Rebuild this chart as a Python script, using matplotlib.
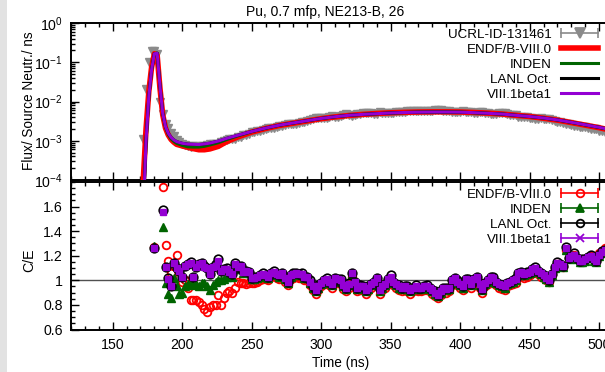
import numpy as np
import matplotlib
matplotlib.use('Agg')
import matplotlib.pyplot as plt
from matplotlib.lines import Line2D
from matplotlib.legend_handler import HandlerLine2D
from matplotlib.patches import Rectangle
import matplotlib.ticker as mticker

nan = np.nan

# ---------------- data ----------------
# top panel: calculated flux (lines)
t_calc = [168, 172, 174, 176, 178, 180, 182, 184, 186, 188,
          190, 192, 194, 196, 200, 204, 208, 212, 216, 220,
          226, 232, 240, 250, 260, 270, 280, 290, 300, 310,
          320, 330, 340, 350, 360, 370, 380, 390, 400, 410,
          420, 430, 440, 450, 460, 470, 480, 490, 500, 510, 520]
flux_endf = [1e-7, 1.0e-4, 2.0e-3, 1.8e-2, 7.5e-2, 0.165, 0.15, 0.022, 4.6e-3, 2.1e-3,
             1.4e-3, 1.08e-3, 9.2e-4, 8.1e-4, 7.4e-4, 6.8e-4, 6.3e-4, 5.9e-4, 5.9e-4, 6.2e-4,
             7.2e-4, 9.5e-4, 1.25e-3, 1.66e-3, 2.05e-3, 2.45e-3, 2.8e-3, 3.2e-3, 3.65e-3, 4.05e-3,
             4.4e-3, 4.7e-3, 4.95e-3, 5.15e-3, 5.3e-3, 5.4e-3, 5.45e-3, 5.45e-3, 5.4e-3, 5.25e-3,
             5.05e-3, 4.8e-3, 4.45e-3, 4.15e-3, 3.75e-3, 3.35e-3, 2.9e-3, 2.5e-3, 2.15e-3, 1.8e-3, 1.55e-3]
flux_inden = [1e-7, 1.5e-5, 1.0e-3, 1.35e-2, 6.5e-2, 0.165, 0.17, 0.025, 5.0e-3, 2.2e-3,
              1.45e-3, 1.12e-3, 9.6e-4, 8.6e-4, 7.6e-4, 7.0e-4, 6.9e-4, 6.9e-4, 7.2e-4, 7.8e-4,
              8.9e-4, 1.07e-3, 1.33e-3, 1.7e-3, 2.08e-3, 2.48e-3, 2.83e-3, 3.23e-3, 3.68e-3, 4.08e-3,
              4.43e-3, 4.68e-3, 4.88e-3, 5.08e-3, 5.23e-3, 5.33e-3, 5.38e-3, 5.38e-3, 5.33e-3, 5.18e-3,
              4.98e-3, 4.78e-3, 4.43e-3, 4.13e-3, 3.78e-3, 3.38e-3, 2.93e-3, 2.53e-3, 2.18e-3, 1.84e-3, 1.59e-3]
flux_lanl = [1e-7, 1.5e-5, 1.0e-3, 1.35e-2, 6.5e-2, 0.165, 0.17, 0.025, 5.0e-3, 2.3e-3,
             1.55e-3, 1.22e-3, 1.05e-3, 9.5e-4, 8.6e-4, 8.2e-4, 8.1e-4, 8.0e-4, 8.3e-4, 8.7e-4,
             9.8e-4, 1.15e-3, 1.38e-3, 1.72e-3, 2.1e-3, 2.5e-3, 2.85e-3, 3.25e-3, 3.7e-3, 4.1e-3,
             4.45e-3, 4.7e-3, 4.9e-3, 5.1e-3, 5.25e-3, 5.35e-3, 5.4e-3, 5.4e-3, 5.35e-3, 5.2e-3,
             5.0e-3, 4.8e-3, 4.45e-3, 4.15e-3, 3.8e-3, 3.4e-3, 2.95e-3, 2.55e-3, 2.2e-3, 1.85e-3, 1.6e-3]
flux_beta = [1e-7, 1.5e-5, 1.0e-3, 1.35e-2, 6.5e-2, 0.165, 0.17, 0.025, 5.0e-3, 2.3e-3,
             1.55e-3, 1.22e-3, 1.05e-3, 9.5e-4, 8.6e-4, 8.2e-4, 8.1e-4, 8.0e-4, 8.3e-4, 8.7e-4,
             9.8e-4, 1.15e-3, 1.38e-3, 1.72e-3, 2.1e-3, 2.5e-3, 2.85e-3, 3.25e-3, 3.7e-3, 4.1e-3,
             4.45e-3, 4.7e-3, 4.9e-3, 5.1e-3, 5.25e-3, 5.35e-3, 5.4e-3, 5.4e-3, 5.35e-3, 5.2e-3,
             5.0e-3, 4.8e-3, 4.45e-3, 4.15e-3, 3.8e-3, 3.4e-3, 2.95e-3, 2.55e-3, 2.2e-3, 1.85e-3, 1.6e-3]

# top panel: experiment (2 ns bins from 172 ns)
t_exp = np.arange(172, 506, 2)
flux_exp = [1.1e-3, 2.1e-2, 1.0e-1, 1.9e-1, 1.9e-1, 1.6e-1, 9.5e-3, 4.8e-3, 2.6e-3, 2.1e-3,
            1.6e-3, 1.3e-3, 1.05e-3, 9.2e-4, 8.4e-4, 7.9e-4, 7.4e-4, 7.1e-4, 7.5e-4, 7.2e-4,
            7.1e-4, 7.3e-4, 7.5e-4, 7.7e-4, 8.2e-4, 8.1e-4, 8.4e-4, 8.5e-4, 9.3e-4, 9.6e-4,
            1.05e-3, 1.09e-3, 1.14e-3, 1.12e-3, 1.24e-3, 1.27e-3, 1.37e-3, 1.41e-3, 1.48e-3, 1.68e-3,
            1.72e-3, 1.76e-3, 1.82e-3, 1.88e-3, 2.02e-3, 2.08e-3, 2.10e-3, 2.14e-3, 2.25e-3, 2.40e-3,
            2.38e-3, 2.55e-3, 2.70e-3, 2.65e-3, 2.66e-3, 2.72e-3, 2.83e-3, 2.92e-3, 3.06e-3, 3.15e-3,
            3.35e-3, 3.57e-3, 3.75e-3, 3.70e-3, 3.78e-3, 3.78e-3, 3.84e-3, 3.98e-3, 4.15e-3, 4.02e-3,
            4.13e-3, 4.24e-3, 4.50e-3, 4.67e-3, 4.59e-3, 4.25e-3, 4.60e-3, 4.90e-3, 4.90e-3, 5.10e-3,
            5.20e-3, 5.08e-3, 4.95e-3, 4.90e-3, 4.80e-3, 5.35e-3, 5.20e-3, 5.12e-3, 4.97e-3, 4.95e-3,
            5.18e-3, 5.35e-3, 5.48e-3, 5.56e-3, 5.53e-3, 5.64e-3, 5.78e-3, 5.67e-3, 5.60e-3, 5.69e-3,
            5.71e-3, 5.65e-3, 5.67e-3, 5.75e-3, 5.87e-3, 6.00e-3, 6.14e-3, 5.93e-3, 5.74e-3, 5.81e-3,
            5.74e-3, 5.38e-3, 5.27e-3, 5.43e-3, 5.52e-3, 5.60e-3, 5.25e-3, 5.26e-3, 5.40e-3, 5.15e-3,
            5.01e-3, 5.28e-3, 5.47e-3, 5.16e-3, 5.00e-3, 4.82e-3, 4.83e-3, 4.93e-3, 4.98e-3, 5.00e-3,
            4.95e-3, 4.75e-3, 4.60e-3, 4.52e-3, 4.41e-3, 4.14e-3, 4.03e-3, 4.07e-3, 3.97e-3, 3.88e-3,
            3.73e-3, 3.64e-3, 3.66e-3, 3.70e-3, 3.65e-3, 3.65e-3, 3.62e-3, 3.37e-3, 3.14e-3, 2.98e-3,
            2.93e-3, 2.88e-3, 2.61e-3, 2.70e-3, 2.46e-3, 2.35e-3, 2.33e-3, 2.28e-3, 2.20e-3, 2.18e-3,
            2.07e-3, 1.97e-3, 1.98e-3, 1.95e-3, 1.82e-3, 1.74e-3, 1.66e-3]

# bottom panel: C/E (2 ns bins from 180 ns)
t_ce = np.arange(180, 506, 2)
ce_endf = [1.27, nan, nan, 1.76, 1.29, 1.16, 1.06, 1.12, 1.21, 1.03,
           0.99, 1.00, 0.94, 0.84, 0.84, 0.84, 0.82, 0.80, 0.77, 0.74,
           0.78, 0.80, 0.80, 0.88, 0.80, 0.86, 0.90, 0.91, 0.90, 0.94,
           0.99, 0.98, 0.98, 0.97, 0.98, 0.98, 0.98, 0.99, 1.00, 1.01,
           1.01, 1.00, 1.03, 1.04, 1.02, 1.01, 1.03, 0.99, 0.96, 1.01,
           1.02, 1.03, 1.02, 1.02, 1.00, 1.00, 0.96, 0.92, 0.89, 0.92,
           0.95, 0.97, 0.98, 0.96, 0.94, 0.99, 0.98, 0.97, 0.93, 0.91,
           0.94, 1.03, 0.96, 0.91, 0.92, 0.92, 0.89, 0.91, 0.94, 0.96,
           0.99, 0.89, 0.92, 0.94, 0.98, 1.00, 0.96, 0.94, 0.92, 0.91,
           0.92, 0.91, 0.89, 0.91, 0.92, 0.91, 0.91, 0.92, 0.92, 0.91,
           0.89, 0.87, 0.86, 0.88, 0.91, 0.90, 0.91, 0.97, 0.99, 0.96,
           0.94, 0.92, 0.98, 0.97, 0.94, 0.98, 1.00, 0.94, 0.90, 0.95,
           0.97, 1.00, 0.99, 0.96, 0.94, 0.93, 0.92, 0.95, 0.96, 0.97,
           0.98, 1.03, 1.04, 1.02, 1.03, 1.04, 1.06, 1.07, 1.05, 1.03,
           1.02, 1.00, 0.99, 1.04, 1.10, 1.13, 1.12, 1.11, 1.25, 1.18,
           1.20, 1.21, 1.18, 1.16, 1.16, 1.17, 1.19, 1.20, 1.17, 1.16,
           1.22, 1.24, 1.26]
ce_inden = [1.28, nan, nan, 1.43, 0.98, 0.89, 0.86, 1.02, 0.95, 0.89,
            0.90, 0.95, 0.97, 0.98, 0.96, 0.97, 0.95, 0.98, 0.98, 0.95,
            0.92, 0.96, 0.99, 1.00, 1.00, 1.01, 1.03, 1.04, 1.03, 1.09,
            1.09, 1.10, 1.06, 1.07, 1.06, 1.01, 1.01, 1.02, 1.03, 1.04,
            1.03, 1.02, 1.05, 1.06, 1.04, 1.03, 1.05, 1.01, 0.98, 1.03,
            1.04, 1.05, 1.04, 1.04, 1.02, 1.02, 0.98, 0.94, 0.91, 0.94,
            0.97, 0.99, 1.00, 0.98, 0.96, 1.01, 1.00, 0.99, 0.95, 0.93,
            0.96, 1.05, 0.98, 0.93, 0.94, 0.94, 0.91, 0.93, 0.96, 0.98,
            1.01, 0.91, 0.94, 0.96, 1.00, 1.02, 0.98, 0.96, 0.94, 0.93,
            0.94, 0.93, 0.91, 0.93, 0.94, 0.93, 0.93, 0.94, 0.94, 0.93,
            0.91, 0.89, 0.87, 0.90, 0.93, 0.92, 0.93, 0.99, 1.01, 0.98,
            0.96, 0.94, 1.00, 0.99, 0.96, 1.00, 1.02, 0.96, 0.92, 0.97,
            0.99, 1.02, 1.01, 0.98, 0.96, 0.95, 0.94, 0.97, 0.98, 0.99,
            1.00, 1.05, 1.06, 1.04, 1.05, 1.06, 1.08, 1.09, 1.07, 1.05,
            1.03, 1.01, 0.99, 1.04, 1.10, 1.13, 1.12, 1.11, 1.25, 1.17,
            1.19, 1.20, 1.17, 1.15, 1.15, 1.16, 1.18, 1.19, 1.16, 1.15,
            1.20, 1.22, 1.24]
ce_lanl = [1.26, nan, nan, 1.57, 1.11, 1.02, 0.95, 1.14, 1.10, 1.08,
           1.03, 1.12, 1.13, 1.15, 1.03, 1.11, 1.13, 1.14, 1.12, 1.10,
           1.05, 1.11, 1.13, 1.17, 1.08, 1.09, 1.10, 1.07, 1.05, 1.14,
           1.11, 1.12, 1.08, 1.08, 1.07, 1.02, 1.03, 1.03, 1.04, 1.06,
           1.04, 1.03, 1.06, 1.08, 1.05, 1.04, 1.06, 1.03, 0.99, 1.04,
           1.06, 1.06, 1.05, 1.06, 1.03, 1.03, 1.00, 0.95, 0.92, 0.96,
           0.98, 1.00, 1.02, 0.99, 0.97, 1.02, 1.01, 1.01, 0.96, 0.94,
           0.98, 1.06, 0.99, 0.94, 0.96, 0.95, 0.92, 0.95, 0.97, 0.99,
           1.02, 0.93, 0.95, 0.97, 1.01, 1.04, 0.99, 0.97, 0.96, 0.94,
           0.95, 0.95, 0.92, 0.94, 0.96, 0.94, 0.94, 0.95, 0.96, 0.94,
           0.92, 0.91, 0.88, 0.91, 0.94, 0.94, 0.94, 1.00, 1.02, 1.00,
           0.97, 0.95, 1.01, 1.01, 0.97, 1.01, 1.03, 0.98, 0.93, 0.98,
           1.00, 1.03, 1.03, 0.99, 0.97, 0.96, 0.96, 0.98, 0.99, 1.00,
           1.02, 1.06, 1.07, 1.05, 1.07, 1.07, 1.09, 1.11, 1.08, 1.06,
           1.04, 1.03, 1.00, 1.05, 1.11, 1.15, 1.13, 1.12, 1.27, 1.18,
           1.20, 1.22, 1.18, 1.16, 1.17, 1.17, 1.19, 1.21, 1.17, 1.16,
           1.21, 1.24, 1.25]
ce_beta = [1.26, nan, nan, 1.56, 1.11, 1.01, 0.95, 1.14, 1.10, 1.08,
           1.03, 1.12, 1.13, 1.14, 1.03, 1.11, 1.13, 1.14, 1.11, 1.10,
           1.05, 1.11, 1.12, 1.16, 1.08, 1.09, 1.09, 1.07, 1.05, 1.13,
           1.11, 1.12, 1.07, 1.08, 1.07, 1.02, 1.02, 1.03, 1.04, 1.05,
           1.04, 1.03, 1.06, 1.07, 1.05, 1.04, 1.06, 1.02, 0.99, 1.04,
           1.05, 1.06, 1.05, 1.05, 1.03, 1.03, 0.99, 0.95, 0.92, 0.95,
           0.98, 1.00, 1.01, 0.99, 0.97, 1.02, 1.01, 1.00, 0.96, 0.94,
           0.97, 1.06, 0.99, 0.94, 0.95, 0.95, 0.92, 0.94, 0.97, 0.99,
           1.02, 0.92, 0.95, 0.97, 1.01, 1.03, 0.99, 0.97, 0.95, 0.94,
           0.95, 0.94, 0.92, 0.94, 0.95, 0.94, 0.94, 0.95, 0.95, 0.94,
           0.92, 0.90, 0.88, 0.91, 0.94, 0.93, 0.94, 1.00, 1.02, 0.99,
           0.97, 0.95, 1.01, 1.00, 0.97, 1.01, 1.03, 0.97, 0.93, 0.98,
           1.00, 1.03, 1.02, 0.99, 0.97, 0.96, 0.95, 0.98, 0.99, 1.00,
           1.01, 1.06, 1.07, 1.05, 1.06, 1.07, 1.09, 1.10, 1.08, 1.06,
           1.04, 1.02, 1.00, 1.05, 1.11, 1.14, 1.13, 1.12, 1.26, 1.18,
           1.20, 1.21, 1.18, 1.16, 1.16, 1.17, 1.19, 1.20, 1.17, 1.16,
           1.21, 1.23, 1.25]

title = "Pu, 0.7 mfp, NE213-B, 26"
labels_top = ["UCRL-ID-131461", "ENDF/B-VIII.0", "INDEN", "LANL Oct.", "VIII.1beta1"]
labels_bot = ["ENDF/B-VIII.0", "INDEN", "LANL Oct.", "VIII.1beta1"]
ce_ticks = [0.6, 0.8, 1.0, 1.2, 1.4, 1.6]

# ---------------- style ----------------
plt.rcParams['font.family'] = ['Liberation Sans', 'DejaVu Sans']
plt.rcParams['font.size'] = 9.6
plt.rcParams['mathtext.fontset'] = 'custom'
plt.rcParams['mathtext.rm'] = 'Liberation Sans'
plt.rcParams['mathtext.it'] = 'Liberation Sans:italic'
plt.rcParams['mathtext.default'] = 'regular'

RED = '#ff0000'
GREEN = '#006400'
PURPLE = '#9400d3'
GRAY = '#8a8a8a'
FS = 10.2
LFS = 9.6

W, H = 605, 372
fig = plt.figure(figsize=(W / 100, H / 100), dpi=100)
fig.patch.set_facecolor('white')
fig.patches.append(Rectangle((0, 0), 7 / W, 1, transform=fig.transFigure,
                             facecolor='#e2e2e2', edgecolor='none', zorder=-5))

L, R = 71, 613
ax1 = fig.add_axes([L / W, 1 - 180 / H, (R - L) / W, (180 - 23) / H])
ax2 = fig.add_axes([L / W, 1 - 329.5 / H, (R - L) / W, (329.5 - 182) / H])

for ax in (ax1, ax2):
    ax.set_xlim(120, 510)
    for s in ax.spines.values():
        s.set_linewidth(1.4)
    ax.xaxis.set_major_locator(mticker.MultipleLocator(50))
    ax.xaxis.set_minor_locator(mticker.MultipleLocator(10))
    ax.tick_params(which='both', direction='in', top=True, right=True, width=1.0)
    ax.tick_params(which='major', length=5.5)
    ax.tick_params(which='minor', length=3)

# ---- top panel ----
ax1.set_yscale('log')
ax1.set_ylim(1e-4, 1)
ax1.yaxis.set_major_locator(mticker.LogLocator(base=10, numticks=10))
ax1.yaxis.set_minor_locator(mticker.LogLocator(base=10, subs=np.arange(2, 10), numticks=10))
ax1.yaxis.set_major_formatter(mticker.LogFormatterMathtext())
ax1.yaxis.set_minor_formatter(mticker.NullFormatter())
ax1.tick_params(axis='x', labelbottom=False)
ax1.tick_params(axis='y', pad=6, labelsize=FS)

ax1.plot(t_exp, flux_exp, ls='none', marker='v', color=GRAY, ms=5.5, zorder=2)
ax1.plot(t_calc, flux_endf, color=RED, lw=4.0, zorder=3, solid_joinstyle='round')
ax1.plot(t_calc, flux_inden, color=GREEN, lw=2.2, zorder=4)
ax1.plot(t_calc, flux_lanl, color='black', lw=2.2, zorder=5)
ax1.plot(t_calc, flux_beta, color=PURPLE, lw=2.2, zorder=6)

# ---- bottom panel ----
ax2.set_ylim(0.6, 1.8)
ax2.set_yticks(ce_ticks)
ax2.yaxis.set_minor_locator(mticker.MultipleLocator(0.05))
ax2.yaxis.set_major_formatter(mticker.FormatStrFormatter('%g'))
ax2.tick_params(axis='y', pad=6, labelsize=FS)
ax2.tick_params(axis='x', pad=6, labelsize=FS)
ax2.axhline(1.0, color='#505050', lw=1.0, zorder=1)

ax2.plot(t_ce, ce_endf, ls='none', marker='o', mfc='none', mec=RED, ms=5.5, mew=1.3, zorder=2)
ax2.plot(t_ce, ce_inden, ls='none', marker='^', color=GREEN, ms=6, zorder=3)
ax2.plot(t_ce, ce_lanl, ls='none', marker='o', mfc='none', mec='black', ms=6.2, mew=1.2, zorder=4)
ax2.plot(t_ce, ce_beta, ls='none', marker='s', color=PURPLE, ms=4.8, zorder=5)

# ---- legends ----
def cap_handle(color, marker, mfc, ms):
    caps = Line2D([], [], color=color, lw=1.2, marker='|', markersize=7, markeredgewidth=1.2)
    mid = Line2D([], [], color='none', marker=marker, markerfacecolor=mfc,
                 markeredgecolor=color, markersize=ms, markeredgewidth=1.3)
    return (caps, mid), {caps: HandlerLine2D(numpoints=2, marker_pad=0),
                         mid: HandlerLine2D(numpoints=1)}

hmap = {}
h_exp, m = cap_handle(GRAY, 'v', GRAY, 7); hmap.update(m)
top_handles = [h_exp,
               Line2D([], [], color=RED, lw=4.0),
               Line2D([], [], color=GREEN, lw=2.2),
               Line2D([], [], color='black', lw=2.2),
               Line2D([], [], color=PURPLE, lw=2.2)]
leg_kw = dict(frameon=False, markerfirst=False, loc='upper right',
              bbox_transform=fig.transFigure, borderaxespad=0, borderpad=0,
              handlelength=2.75, handletextpad=0.7, labelspacing=0.2,
              fontsize=LFS)
ax1.legend(top_handles, labels_top, handler_map=hmap,
           bbox_to_anchor=(598 / W, 1 - 28.5 / H), **leg_kw)

hmap2 = {}
bh = []
for c, mk, fc, ms in [(RED, 'o', 'none', 5.5), (GREEN, '^', GREEN, 6),
                      ('black', 'o', 'none', 5.5), (PURPLE, 'x', PURPLE, 5.5)]:
    h, m = cap_handle(c, mk, fc, ms)
    hmap2.update(m)
    bh.append(h)
ax2.legend(bh, labels_bot, handler_map=hmap2,
           bbox_to_anchor=(598 / W, 1 - 188.5 / H), **leg_kw)

# ---- texts (sized to the reference's measured text lengths) ----
t_title = fig.text(325 / W, 1 - 12 / H, title, ha='center', va='center', fontsize=FS)
t_yl1 = fig.text(29 / W, 1 - 101 / H, "Flux/ Source Neutr./ ns", rotation=90,
                 ha='center', va='center', fontsize=FS)
t_yl2 = fig.text(29 / W, 1 - 260 / H, "C/E", rotation=90, ha='center', va='center', fontsize=FS)
t_xl = fig.text(341 / W, 1 - 363 / H, "Time (ns)", ha='center', va='center', fontsize=FS)

renderer = fig.canvas.get_renderer()
for txt, target, horiz in [(t_title, 157, True), (t_yl1, 139, False), (t_xl, 57, True)]:
    bb = txt.get_window_extent(renderer)
    size = bb.width if horiz else bb.height
    txt.set_fontsize(FS * target / size)

fig.savefig('out.png', dpi=100)
